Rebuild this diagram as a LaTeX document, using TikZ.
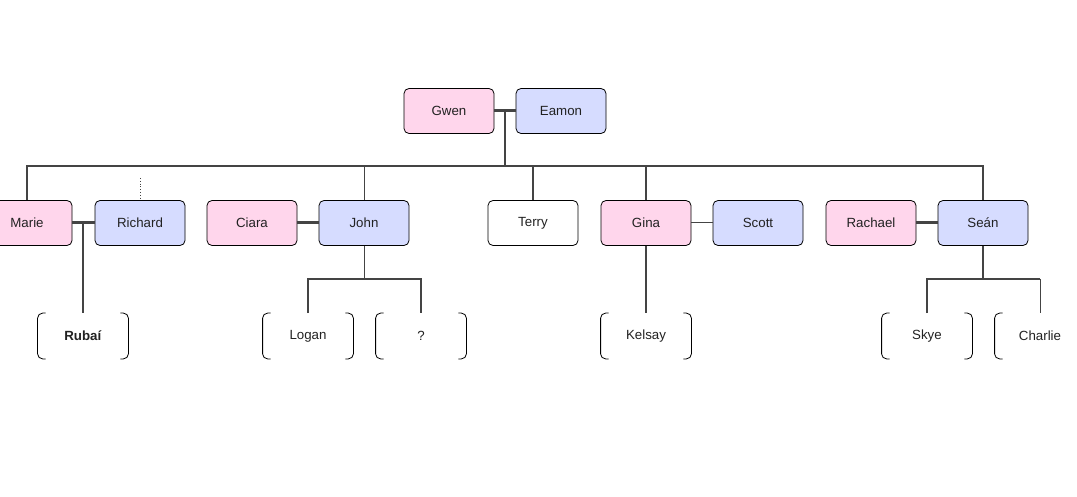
\documentclass[tikz,border=0pt]{standalone}
\usepackage{fontspec}
\setmainfont{Liberation Sans}
\definecolor{fpink}{RGB}{255,214,236}
\definecolor{mblue}{RGB}{214,220,255}
\definecolor{lcol}{RGB}{68,68,68}
\definecolor{tcol}{RGB}{34,34,34}
\begin{document}
\begin{tikzpicture}[x=1bp,y=-1bp,
  box/.style={rounded corners=5bp, line width=0.8bp, minimum width=90bp, minimum height=45bp, inner sep=0pt, text=tcol, font=\fontsize{13.3bp}{16bp}\selectfont},
  female/.style={box, draw=black, fill=fpink},
  male/.style={box, draw=black, fill=mblue},
  plain/.style={box, draw=black, fill=white},
  child/.style={box},
  couple/.style={draw=lcol, line width=3bp},
  thickln/.style={draw=lcol, line width=2bp},
  thinln/.style={draw=lcol, line width=1bp},
  bracket/.style={draw=black, line width=0.8bp, rounded corners=5bp}]
\clip (0,0) rectangle (1077,497);
\fill[white] (0,0) rectangle (1077,497);
% generation 1
\node[female] (gwen) at (449,111) {Gwen};
\node[male] (eamon) at (561,111) {Eamon};
% generation 2
\node[female] (marie) at (27,223) {Marie};
\node[male] (richard) at (140,223) {Richard};
\node[female] (ciara) at (252,223) {Ciara};
\node[male] (john) at (364,223) {John};
\node[plain] (terry) at (533,223) {Terry};
\node[female] (gina) at (646,223) {Gina};
\node[male] (scott) at (758,223) {Scott};
\node[female] (rachael) at (871,223) {Rachael};
\node[male] (sean) at (983,223) {Seán};
% generation 3
\node[child] (rubai) at (83,336) {\textbf{Rubaí}};
\node[child] (logan) at (308,336) {Logan};
\node[child] (q) at (421,336) {?};
\node[child] (kelsay) at (646,336) {Kelsay};
\node[child] (skye) at (927,336) {Skye};
\node[child] (charlie) at (1040,336) {Charlie};
\foreach \n in {rubai,logan,q,kelsay,skye,charlie} {
  \draw[bracket] ([xshift=8bp]\n.north west) -| (\n.south west) -- ([xshift=8bp]\n.south west);
  \draw[bracket] ([xshift=-8bp]\n.north east) -| (\n.south east) -- ([xshift=-8bp]\n.south east);
}
% coordinates
\coordinate (gj) at (505,111);
\coordinate (bus) at (505,166);
\coordinate (mj) at (83,223);
\coordinate (jbus) at (364,279);
\coordinate (sbus) at (983,279);
\coordinate (rdot) at (140,178);
% couples
\draw[couple] (gwen.east) -- (eamon.west);
\draw[couple] (marie.east) -- (richard.west);
\draw[couple] (ciara.east) -- (john.west);
\draw[thinln] (gina.east) -- (scott.west);
\draw[couple] (rachael.east) -- (sean.west);
% gen1 to gen2
\draw[thickln] (gj) -- (bus);
\draw[thickln] (marie.north) |- (sean.north |- bus) -- (sean.north);
\draw[thinln] (john.north) -- (john.north |- bus);
\draw[thickln] (terry.north) -- (terry.north |- bus);
\draw[thickln] (gina.north) -- (gina.north |- bus);
\draw[draw=lcol, line width=0.8bp, dotted] (rdot) -- (richard.north);
% gen2 to gen3
\draw[thickln] (mj) -- (rubai.north);
\draw[thinln] (john.south) -- (jbus);
\draw[thickln] (logan.north) |- (jbus) -| (q.north);
\draw[thickln] (gina.south) -- (kelsay.north);
\draw[thickln] (sean.south) -- (sbus);
\draw[thickln] (skye.north) |- (sbus) -- (sbus -| charlie.north);
\draw[thinln] (sbus -| charlie.north) -- (charlie.north);
\end{tikzpicture}
\end{document}
